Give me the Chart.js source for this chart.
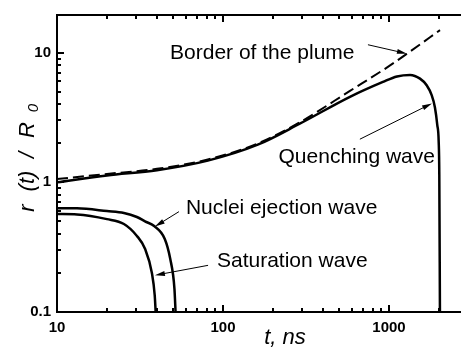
<!DOCTYPE html>
<html>
<head>
<meta charset="utf-8">
<script src="https://cdn.jsdelivr.net/npm/chart.js@4.4.1/dist/chart.umd.min.js"></script>
<style>
  body { margin: 0; background: #fff; }
  #chart { display: block; }
</style>
</head>
<body>
<canvas id="chart" width="461" height="349"></canvas>
<script>
// axis ticks
var xTicks = [10, 100, 1000];
var yTicks = [0.1, 1, 10];

// border of the plume (dashed)
var plumeT = [10, 20, 40, 81, 162, 290, 582, 1000, 1340, 2030];
var plumeR = [1.06, 1.16, 1.27, 1.5, 1.99, 2.9, 5.07, 7.86, 10.2, 14.9];

// quenching wave
var quenchT = [10, 20, 40, 81, 162, 290, 582, 920, 1117, 1340, 1538, 1687, 1808, 1892, 1954, 1993, 2010, 2028];
var quenchR = [1.0, 1.13, 1.24, 1.47, 1.95, 2.83, 4.56, 5.94, 6.55, 6.73, 6.3, 5.6, 4.7, 3.77, 2.77, 2.06, 1.14, 0.1];

// nuclei ejection wave
var nucleiT = [10, 13.2, 20, 25.3, 30.3, 33.9, 38.5, 44.6, 48.1, 51, 51.8];
var nucleiR = [0.632, 0.63, 0.6, 0.58, 0.54, 0.5, 0.46, 0.366, 0.257, 0.151, 0.1];

// saturation wave
var satT = [10, 13.2, 20, 25.3, 30.3, 33.9, 37.3, 38.8, 39.3];
var satR = [0.569, 0.565, 0.52, 0.477, 0.386, 0.307, 0.2, 0.134, 0.1];

// labels with arrows, in data units: text anchor, arrow from -> to
var notes = [
  { text: "Border of the plume", x: 48, y: 9.0, align: "left", ax1: 747, ay1: 11.5, ax2: 1283, ay2: 9.82 },
  { text: "Quenching wave", x: 1892, y: 1.41, align: "right", ax1: 668, ay1: 2.15, ax2: 1815, ay2: 4.06 },
  { text: "Nuclei ejection wave", x: 59.8, y: 0.574, align: "left", ax1: 54.3, ay1: 0.594, ax2: 38.9, ay2: 0.456 },
  { text: "Saturation wave", x: 92, y: 0.221, align: "left", ax1: 81.3, ay1: 0.229, ax2: 38.9, ay2: 0.192 }
];

function pts(t, r) {
  return t.map(function (v, i) { return { x: v, y: r[i] }; });
}

// minor + major tick values for a log axis
function logMarks(decades, max) {
  var out = [];
  decades.forEach(function (d) {
    for (var k = 1; k <= 9; k++) {
      if (k * d <= max * 1.0001) out.push({ v: k * d, major: k === 1 });
    }
  });
  return out;
}

function arrow(ctx, x1, y1, x2, y2) {
  var ang = Math.atan2(y2 - y1, x2 - x1);
  var c = Math.cos(ang), s = Math.sin(ang);
  ctx.beginPath();
  ctx.moveTo(x1, y1);
  ctx.lineTo(x2 - 6 * c, y2 - 6 * s);
  ctx.lineWidth = 1;
  ctx.stroke();
  ctx.beginPath();
  ctx.moveTo(x2, y2);
  ctx.lineTo(x2 - 10 * c + 2.5 * s, y2 - 10 * s - 2.5 * c);
  ctx.lineTo(x2 - 10 * c - 2.5 * s, y2 - 10 * s + 2.5 * c);
  ctx.closePath();
  ctx.fill();
}

var overlay = {
  id: "overlay",
  afterDraw: function (chart) {
    var ctx = chart.ctx, a = chart.chartArea;
    var xs = chart.scales.x, ys = chart.scales.y;
    ctx.save();
    ctx.strokeStyle = "#000";
    ctx.fillStyle = "#000";

    // frame (right side is cut off in the original)
    ctx.lineWidth = 2;
    ctx.beginPath();
    ctx.moveTo(a.right + 2, a.top);
    ctx.lineTo(a.left, a.top);
    ctx.lineTo(a.left, a.bottom);
    ctx.lineTo(a.right + 2, a.bottom);
    ctx.stroke();

    // inward tick marks
    var xm = logMarks(xTicks, xs.max), ym = logMarks(yTicks, ys.max);
    ctx.lineWidth = 2;
    ctx.beginPath();
    xm.forEach(function (t) {
      var px = Math.round(xs.getPixelForValue(t.v));
      var len = t.major ? 7 : 4;
      ctx.moveTo(px, a.bottom);
      ctx.lineTo(px, a.bottom - len);
      ctx.moveTo(px, a.top);
      ctx.lineTo(px, a.top + len);
    });
    ym.forEach(function (t) {
      var py = Math.round(ys.getPixelForValue(t.v));
      var len = t.major ? 7 : 4;
      ctx.moveTo(a.left, py);
      ctx.lineTo(a.left + len, py);
    });
    ctx.stroke();

    // annotations
    ctx.font = "21px 'Liberation Sans', Arial, sans-serif";
    ctx.textBaseline = "alphabetic";
    notes.forEach(function (n) {
      ctx.textAlign = n.align;
      ctx.fillText(n.text, xs.getPixelForValue(n.x), ys.getPixelForValue(n.y));
      arrow(ctx, xs.getPixelForValue(n.ax1), ys.getPixelForValue(n.ay1),
                 xs.getPixelForValue(n.ax2), ys.getPixelForValue(n.ay2));
    });

    // x axis title
    ctx.font = "italic 22px 'Liberation Sans', Arial, sans-serif";
    ctx.textAlign = "center";
    ctx.fillText("t, ns", 285, 344);

    // y axis title, rotated, with subscript
    ctx.translate(34, 0);
    ctx.rotate(-Math.PI / 2);
    ctx.textAlign = "center";
    ctx.fillText("r", -208, 0);
    ctx.fillText("(t)", -181, 0);
    ctx.fillText("/", -155, 0);
    ctx.fillText("R", -130, 0);
    ctx.font = "italic 15px 'Liberation Sans', Arial, sans-serif";
    ctx.fillText("0", -108, 4);
    ctx.restore();
  }
};

var lineStyle = { borderColor: "#000", borderWidth: 2.5, pointRadius: 0, fill: false, cubicInterpolationMode: "monotone" };

new Chart(document.getElementById("chart"), {
  type: "line",
  data: {
    datasets: [
      Object.assign({ label: "Border of the plume", data: pts(plumeT, plumeR) }, lineStyle, { borderDash: [11, 5], borderWidth: 2 }),
      Object.assign({ label: "Quenching wave", data: pts(quenchT, quenchR) }, lineStyle),
      Object.assign({ label: "Nuclei ejection wave", data: pts(nucleiT, nucleiR) }, lineStyle),
      Object.assign({ label: "Saturation wave", data: pts(satT, satR) }, lineStyle)
    ]
  },
  options: {
    responsive: false,
    animation: false,
    devicePixelRatio: 1,
    layout: { padding: { top: 13, left: 0, right: 0, bottom: 0 } },
    plugins: { legend: { display: false }, tooltip: { enabled: false } },
    scales: {
      x: {
        type: "logarithmic",
        position: "bottom",
        min: 10,
        max: 2716,
        grid: { display: false, drawTicks: false, tickLength: 0 },
        border: { display: false },
        ticks: {
          color: "#000",
          font: { family: "'Liberation Sans', Arial, sans-serif", size: 15, weight: "bold" },
          padding: 7,
          maxRotation: 0,
          autoSkip: false,
          callback: function (v) { return String(v); }
        },
        afterBuildTicks: function (s) { s.ticks = xTicks.map(function (v) { return { value: v }; }); },
        afterFit: function (s) { s.height = 37; }
      },
      y: {
        type: "logarithmic",
        position: "left",
        min: 0.1,
        max: 19.5,
        grid: { display: false, drawTicks: false, tickLength: 0 },
        border: { display: false },
        ticks: {
          color: "#000",
          font: { family: "'Liberation Sans', Arial, sans-serif", size: 15, weight: "bold" },
          padding: 6,
          autoSkip: false,
          callback: function (v) { return String(v); }
        },
        afterBuildTicks: function (s) { s.ticks = yTicks.map(function (v) { return { value: v }; }); },
        afterFit: function (s) { s.width = 57; }
      }
    }
  },
  plugins: [overlay]
});
</script>
</body>
</html>
